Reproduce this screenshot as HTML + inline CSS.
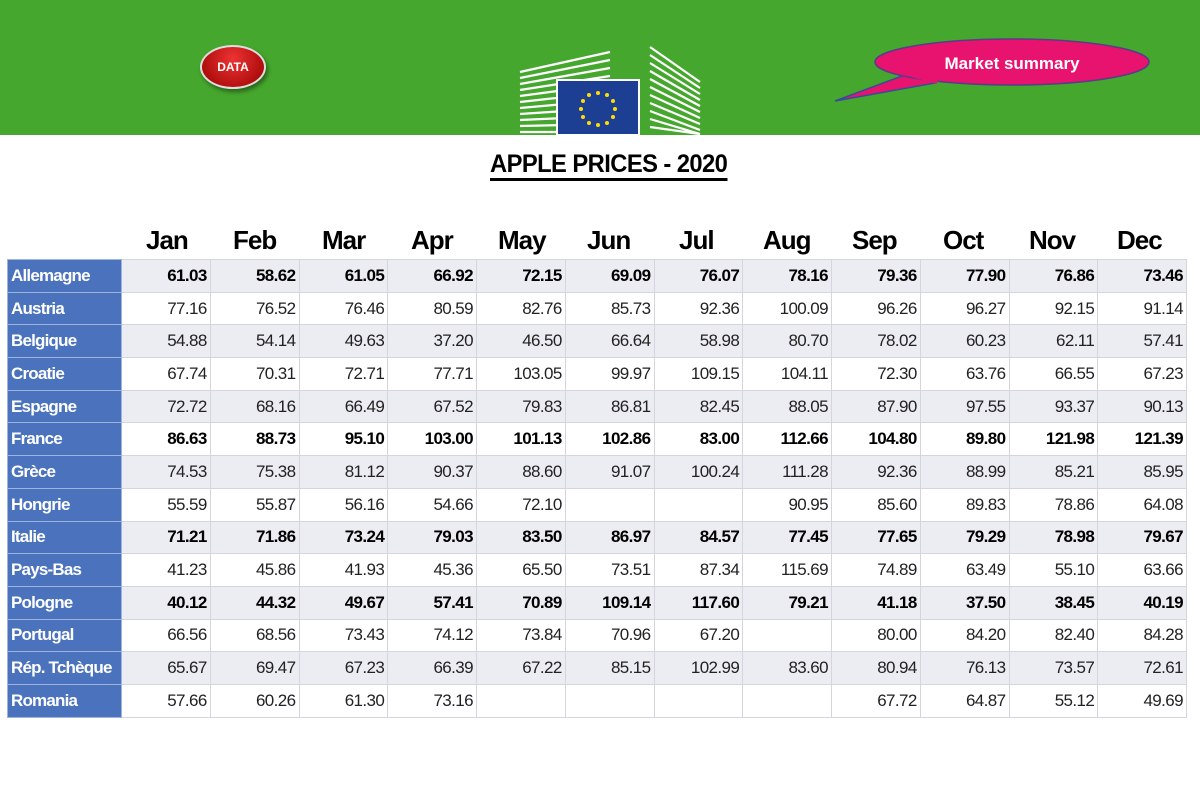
<!DOCTYPE html>
<html><head><meta charset="utf-8"><style>
body{margin:0;width:1200px;height:800px;background:#fff;position:relative;overflow:hidden;font-family:"Liberation Sans",Arial,sans-serif}
.top{position:absolute;left:0;top:0;width:1200px;height:135px;background:#45a72d}
.title{position:absolute;left:490px;top:150px;font-weight:bold;font-size:25px;letter-spacing:-0.6px;border-bottom:3px solid #000;line-height:28px;transform:scaleX(0.95);transform-origin:left}
table{position:absolute;left:7px;top:259px;border-collapse:collapse;table-layout:fixed;width:1179px}
td{height:31.7px;padding:0 3px 0 0;border:1px solid #d4d6de;text-align:right;font-size:17px;letter-spacing:-0.6px;color:#222;overflow:hidden;white-space:nowrap}
td.l{background:#4b73bd;color:#fff !important;text-align:left;padding-left:3px;font-weight:bold;font-size:17px;border-color:#9fb3dc;letter-spacing:-0.8px}
tr:nth-child(odd) td:not(.l){background:#ececf3}
tr.b td{font-weight:bold;color:#000}
.mh{position:absolute;top:225px;font-weight:bold;font-size:26px;letter-spacing:-1px}
</style></head><body>
<div class="top"></div>
<div style="position:absolute;left:200px;top:45px;width:62px;height:40px;border-radius:50%;background:radial-gradient(circle at 50% 30%,#e33,#900);border:2px solid #ddd;box-shadow:2px 3px 4px rgba(0,0,0,.4);color:#fff;font-size:12px;font-weight:bold;text-align:center;line-height:40px">DATA</div>
<svg style="position:absolute;left:515px;top:42px" width="190" height="95">
<g stroke="#fff" stroke-width="2.2">
<path d="M5 30 L95 10 M5 36 L95 18 M5 42 L95 26 M5 48 L95 34 M5 54 L95 42 M5 60 L95 50 M5 66 L95 58 M5 72 L95 66 M5 78 L95 74 M5 84 L95 82 M5 90 L95 90"/>
<path d="M135 5 L185 40 M135 13 L185 46 M135 21 L185 52 M135 29 L185 58 M135 37 L185 64 M135 45 L185 70 M135 53 L185 76 M135 61 L185 82 M135 69 L185 88 M135 77 L185 92 M135 85 L185 92"/>
</g>
<rect x="42" y="38" width="82" height="55" fill="#1c3f94" stroke="#fff" stroke-width="2"/>
<g fill="#ffdd00"><circle cx="83" cy="51" r="2"/><circle cx="92" cy="53" r="2"/><circle cx="98" cy="59" r="2"/><circle cx="100" cy="67" r="2"/><circle cx="98" cy="75" r="2"/><circle cx="92" cy="81" r="2"/><circle cx="83" cy="83" r="2"/><circle cx="74" cy="81" r="2"/><circle cx="68" cy="75" r="2"/><circle cx="66" cy="67" r="2"/><circle cx="68" cy="59" r="2"/><circle cx="74" cy="53" r="2"/></g>
</svg>
<svg style="position:absolute;left:830px;top:35px" width="330" height="70">
<path d="M80 38 L5 66 L105 48 Z" fill="#e8136f" stroke="#3a4a9a" stroke-width="1.5"/>
<ellipse cx="182" cy="27" rx="137" ry="23" fill="#e8136f" stroke="#5a3a8a" stroke-width="1.5"/>
<path d="M82 40 L107 47" stroke="#e8136f" stroke-width="4"/>
<text x="182" y="34" fill="#fff" font-family="Liberation Sans" font-weight="bold" font-size="17" text-anchor="middle">Market summary</text>
</svg>
<div class="title">APPLE PRICES - 2020</div>
<div class="mh" style="left:146px">Jan</div><div class="mh" style="left:233px">Feb</div><div class="mh" style="left:322px">Mar</div><div class="mh" style="left:411px">Apr</div><div class="mh" style="left:498px">May</div><div class="mh" style="left:587px">Jun</div><div class="mh" style="left:679px">Jul</div><div class="mh" style="left:763px">Aug</div><div class="mh" style="left:852px">Sep</div><div class="mh" style="left:943px">Oct</div><div class="mh" style="left:1029px">Nov</div><div class="mh" style="left:1117px">Dec</div>
<table>
<colgroup><col style="width:114px"><col span="12" style="width:88.75px"></colgroup>
<tr class="b"><td class="l">Allemagne</td><td>61.03</td><td>58.62</td><td>61.05</td><td>66.92</td><td>72.15</td><td>69.09</td><td>76.07</td><td>78.16</td><td>79.36</td><td>77.90</td><td>76.86</td><td>73.46</td></tr>
<tr><td class="l">Austria</td><td>77.16</td><td>76.52</td><td>76.46</td><td>80.59</td><td>82.76</td><td>85.73</td><td>92.36</td><td>100.09</td><td>96.26</td><td>96.27</td><td>92.15</td><td>91.14</td></tr>
<tr><td class="l">Belgique</td><td>54.88</td><td>54.14</td><td>49.63</td><td>37.20</td><td>46.50</td><td>66.64</td><td>58.98</td><td>80.70</td><td>78.02</td><td>60.23</td><td>62.11</td><td>57.41</td></tr>
<tr><td class="l">Croatie</td><td>67.74</td><td>70.31</td><td>72.71</td><td>77.71</td><td>103.05</td><td>99.97</td><td>109.15</td><td>104.11</td><td>72.30</td><td>63.76</td><td>66.55</td><td>67.23</td></tr>
<tr><td class="l">Espagne</td><td>72.72</td><td>68.16</td><td>66.49</td><td>67.52</td><td>79.83</td><td>86.81</td><td>82.45</td><td>88.05</td><td>87.90</td><td>97.55</td><td>93.37</td><td>90.13</td></tr>
<tr class="b"><td class="l">France</td><td>86.63</td><td>88.73</td><td>95.10</td><td>103.00</td><td>101.13</td><td>102.86</td><td>83.00</td><td>112.66</td><td>104.80</td><td>89.80</td><td>121.98</td><td>121.39</td></tr>
<tr><td class="l">Grèce</td><td>74.53</td><td>75.38</td><td>81.12</td><td>90.37</td><td>88.60</td><td>91.07</td><td>100.24</td><td>111.28</td><td>92.36</td><td>88.99</td><td>85.21</td><td>85.95</td></tr>
<tr><td class="l">Hongrie</td><td>55.59</td><td>55.87</td><td>56.16</td><td>54.66</td><td>72.10</td><td></td><td></td><td>90.95</td><td>85.60</td><td>89.83</td><td>78.86</td><td>64.08</td></tr>
<tr class="b"><td class="l">Italie</td><td>71.21</td><td>71.86</td><td>73.24</td><td>79.03</td><td>83.50</td><td>86.97</td><td>84.57</td><td>77.45</td><td>77.65</td><td>79.29</td><td>78.98</td><td>79.67</td></tr>
<tr><td class="l">Pays-Bas</td><td>41.23</td><td>45.86</td><td>41.93</td><td>45.36</td><td>65.50</td><td>73.51</td><td>87.34</td><td>115.69</td><td>74.89</td><td>63.49</td><td>55.10</td><td>63.66</td></tr>
<tr class="b"><td class="l">Pologne</td><td>40.12</td><td>44.32</td><td>49.67</td><td>57.41</td><td>70.89</td><td>109.14</td><td>117.60</td><td>79.21</td><td>41.18</td><td>37.50</td><td>38.45</td><td>40.19</td></tr>
<tr><td class="l">Portugal</td><td>66.56</td><td>68.56</td><td>73.43</td><td>74.12</td><td>73.84</td><td>70.96</td><td>67.20</td><td></td><td>80.00</td><td>84.20</td><td>82.40</td><td>84.28</td></tr>
<tr><td class="l">Rép. Tchèque</td><td>65.67</td><td>69.47</td><td>67.23</td><td>66.39</td><td>67.22</td><td>85.15</td><td>102.99</td><td>83.60</td><td>80.94</td><td>76.13</td><td>73.57</td><td>72.61</td></tr>
<tr><td class="l">Romania</td><td>57.66</td><td>60.26</td><td>61.30</td><td>73.16</td><td></td><td></td><td></td><td></td><td>67.72</td><td>64.87</td><td>55.12</td><td>49.69</td></tr>
</table>
</body></html>
